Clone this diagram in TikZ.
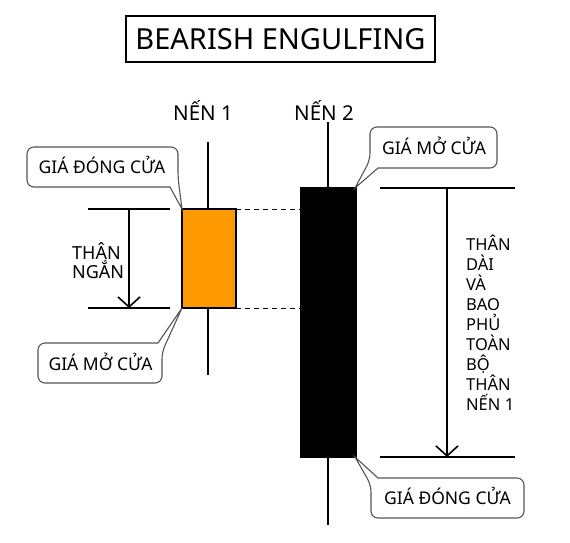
\documentclass[tikz,border=0pt]{standalone}
\usepackage{fontspec}
\setmainfont{Noto Sans}
\usetikzlibrary{arrows.meta}
\definecolor{candleorange}{HTML}{FF9900}
\definecolor{calloutgray}{HTML}{555555}
\tikzset{
  titlebox/.style={draw, line width=2.5pt, minimum width=309pt, minimum height=46pt, inner sep=0pt, font=\fontsize{29}{31}\selectfont},
  candlebody/.style={draw, line width=2pt, inner sep=0pt, outer sep=0pt},
  wick/.style={line width=2pt},
  levelline/.style={line width=2pt},
  dimarrow/.style={line width=1.6pt, -{Straight Barb[length=10pt, width=22pt]}},
  dashline/.style={line width=1pt, dash pattern=on 5pt off 4pt},
  calloutshape/.style={draw=calloutgray, line width=1.1pt, fill=white},
  callouttext/.style={inner sep=0pt, anchor=base, font=\fontsize{17.5}{20}\selectfont},
  candlelabel/.style={inner sep=0pt, anchor=base, font=\fontsize{20.5}{22}\selectfont},
  sidetext/.style={inner sep=0pt, align=left, anchor=base west},
}
\begin{document}
\begin{tikzpicture}[x=1pt, y=-1pt]
\useasboundingbox (0,0) rectangle (570,542);

% title
\node[titlebox] (title) at (280.5,39) {BEARISH ENGULFING};

% candle labels
\node[candlelabel] (n1) at (203,120) {NẾN 1};
\node[candlelabel] (n2) at (324,120) {NẾN 2};

% wicks
\coordinate (w1top) at (208,142);
\coordinate (w1bot) at (208,375);
\coordinate (w2top) at (328,122);
\coordinate (w2bot) at (328,525);
\draw[wick] (w1top) -- (w1bot);
\draw[wick] (w2top) -- (w2bot);

% candle bodies
\node[candlebody, fill=candleorange, minimum width=54pt, minimum height=99pt] (c1) at (209,258.5) {};
\node[candlebody, fill=black, minimum width=55pt, minimum height=269pt] (c2) at (328.5,322.5) {};

% dashed guide lines
\draw[dashline] (c1.north east) -- (c1.north east -| c2.west);
\draw[dashline] (c1.south east) -- (c1.south east -| c2.west);

% left dimension
\coordinate (la1) at (88,209);  \coordinate (lb1) at (170,209);
\coordinate (la2) at (88,308);  \coordinate (lb2) at (170,308);
\draw[levelline] (la1) -- (lb1);
\draw[levelline] (la2) -- (lb2);
\coordinate (lt) at (129,209); \coordinate (lbm) at (129,308);
\draw[dimarrow] (lt) -- (lbm);
\node[sidetext, font=\fontsize{18}{18.3}\selectfont] (short) at (72,278) {THÂN\\NGẮN};

% right dimension
\coordinate (ra1) at (380,188);  \coordinate (rb1) at (515,188);
\coordinate (ra2) at (380,457);  \coordinate (rb2) at (515,457);
\draw[levelline] (ra1) -- (rb1);
\draw[levelline] (ra2) -- (rb2);
\coordinate (rt) at (447,188); \coordinate (rbm) at (447,457);
\draw[dimarrow] (rt) -- (rbm);
\node[sidetext, font=\fontsize{16.5}{20}\selectfont] (long) at (466,410) {THÂN\\DÀI\\VÀ\\BAO\\PHỦ\\TOÀN\\BỘ\\THÂN\\NẾN 1};

% callouts
\draw[calloutshape] (170,187) [rounded corners=7pt] -- (27,187) -- (27,147) -- (178,147) -- (178,178) [sharp corners] -- (182,209) -- cycle;
\node[callouttext] (dong1) at (102,173) {GIÁ ĐÓNG CỬA};

\draw[calloutshape] (158,343) [rounded corners=7pt] -- (38,343) -- (38,383) -- (162,383) -- (162,352) [sharp corners] -- (182,308) -- cycle;
\node[callouttext] (mo1) at (100.5,370) {GIÁ MỞ CỬA};

\draw[calloutshape] (378,168) [rounded corners=7pt] -- (497,168) -- (497,127) -- (370,127) -- (370,160) [sharp corners] -- (355,188) -- cycle;
\node[callouttext] (mo2) at (434,154) {GIÁ MỞ CỬA};

\draw[calloutshape] (378,478) [rounded corners=7pt] -- (524,478) -- (524,518) -- (371,518) -- (371,485) [sharp corners] -- (355,457) -- cycle;
\node[callouttext] (dong2) at (447.5,504.5) {GIÁ ĐÓNG CỬA};
\end{tikzpicture}
\end{document}
